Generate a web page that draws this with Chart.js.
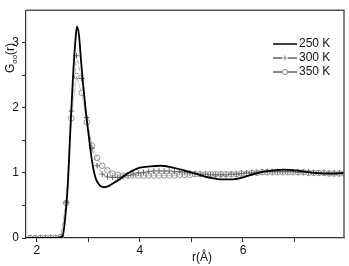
<!DOCTYPE html>
<html>
<head>
<meta charset="utf-8">
<script src="https://cdn.jsdelivr.net/npm/chart.js@4"></script>
<style>
  html, body { margin: 0; padding: 0; background: #fff; }
  #wrap { width: 349px; height: 266px; }
</style>
</head>
<body>
<div id="wrap"><canvas id="gr"></canvas></div>
<script>
/* ---------------------------
    DATA
------------------------------ */
const seriesNames = ["250 K", "300 K", "350 K"];

// 250 K, solid line
const r250 = [1.8, 2.4, 2.5, 2.55, 2.6, 2.65, 2.7, 2.75, 2.78, 2.82, 2.86, 2.9, 2.95, 3.0, 3.05, 3.1, 3.15, 3.2, 3.25, 3.3,
  3.4, 3.5, 3.6, 3.7, 3.8, 3.9, 4.0, 4.2, 4.4, 4.6, 4.8, 5.0, 5.2, 5.4, 5.6, 5.8, 6.0, 6.2, 6.4, 6.6, 6.8, 7.0, 7.2, 7.4, 7.6, 7.8, 8.0];
const g250 = [0, 0, 0.03, 0.3, 0.8, 1.65, 2.45, 3.05, 3.25, 3.1, 2.7, 2.35, 1.95, 1.62, 1.3, 1.05, 0.9, 0.83, 0.79, 0.78,
  0.8, 0.85, 0.9, 0.96, 1.01, 1.05, 1.08, 1.1, 1.11, 1.09, 1.05, 1.01, 0.96, 0.92, 0.9, 0.9, 0.93, 0.98, 1.02, 1.04, 1.05, 1.04, 1.02, 1.0, 0.99, 0.99, 1.0];

// 300 K and 350 K, sampled points
const rPts = [1.87, 1.97, 2.07, 2.17, 2.27, 2.37, 2.47, 2.57, 2.67, 2.77, 2.87, 2.97, 3.07, 3.17, 3.27, 3.37, 3.47, 3.57, 3.67, 3.77,
  3.87, 3.97, 4.07, 4.17, 4.27, 4.37, 4.47, 4.57, 4.67, 4.77, 4.87, 4.97, 5.07, 5.17, 5.27, 5.37, 5.47, 5.57, 5.67, 5.77,
  5.87, 5.97, 6.07, 6.17, 6.27, 6.37, 6.47, 6.57, 6.67, 6.77, 6.87, 6.97, 7.07, 7.17, 7.27, 7.37, 7.47, 7.57, 7.67, 7.77, 7.87, 7.97];
const g300 = [0, 0, 0, 0, 0, 0, 0.02, 0.55, 1.95, 2.8, 2.45, 1.85, 1.38, 1.11, 0.98, 0.94, 0.93, 0.93, 0.94, 0.96,
  0.98, 1.0, 1.01, 1.02, 1.03, 1.03, 1.03, 1.03, 1.02, 1.02, 1.01, 1.0, 0.99, 0.98, 0.98, 0.97, 0.97, 0.97, 0.97, 0.98,
  0.98, 0.99, 1.0, 1.0, 1.01, 1.02, 1.02, 1.02, 1.02, 1.02, 1.02, 1.02, 1.01, 1.01, 1.01, 1.0, 1.0, 1.0, 1.0, 1.0, 1.0, 1.0];
const g350 = [0, 0, 0, 0, 0, 0, 0.02, 0.54, 1.84, 2.49, 2.23, 1.78, 1.42, 1.23, 1.11, 1.04, 0.99, 0.97, 0.96, 0.96,
  0.96, 0.96, 0.96, 0.96, 0.96, 0.96, 0.96, 0.96, 0.96, 0.97, 0.97, 0.97, 0.98, 0.98, 0.98, 0.98, 0.98, 0.98, 0.98, 0.98,
  0.98, 0.99, 0.99, 1.0, 1.0, 1.01, 1.01, 1.01, 1.01, 1.01, 1.01, 1.01, 1.01, 1.01, 1.0, 1.0, 1.0, 1.0, 0.99, 0.99, 0.99, 0.99];

const xTicks = [2, 3, 4, 5, 6, 7];
const yTicks = [0, 0.5, 1, 1.5, 2, 2.5, 3];

const pairs = (xs, ys) => xs.map((x, i) => ({ x: x, y: ys[i] }));

/* ---------------------------
    EXTRA DRAWING (frame, legend, axis titles)
------------------------------ */
const extras = {
    id: "extras",
    afterDraw(chart) {
        const ctx = chart.ctx;
        const a = chart.chartArea;
        ctx.save();

        // top + right frame
        ctx.strokeStyle = "#555";
        ctx.lineWidth = 1.5;
        ctx.beginPath();
        ctx.moveTo(a.left, a.top);
        ctx.lineTo(a.right, a.top);
        ctx.lineTo(a.right, a.bottom);
        ctx.stroke();

        // legend
        const rows = [44, 58, 72];
        ctx.font = "12px 'Liberation Sans', Arial, sans-serif";
        ctx.textBaseline = "middle";
        rows.forEach((y, i) => {
            ctx.strokeStyle = "#111";
            ctx.lineWidth = i === 0 ? 1.6 : 1;
            ctx.beginPath();
            ctx.moveTo(273, y);
            ctx.lineTo(297, y);
            ctx.stroke();
            ctx.lineWidth = 1;
            if (i === 1) {
                ctx.strokeStyle = "#888";
                ctx.fillStyle = "#fff";
                ctx.fillRect(282, y - 3, 6, 6);
                ctx.beginPath();
                ctx.moveTo(282.5, y); ctx.lineTo(287.5, y);
                ctx.moveTo(285, y - 2.5); ctx.lineTo(285, y + 2.5);
                ctx.stroke();
            }
            if (i === 2) {
                ctx.fillStyle = "#fff";
                ctx.strokeStyle = "#888";
                ctx.beginPath();
                ctx.arc(285, y, 2.6, 0, Math.PI * 2);
                ctx.fill();
                ctx.stroke();
            }
            ctx.fillStyle = "#111";
            ctx.textAlign = "left";
            ctx.fillText(seriesNames[i], 299, y);
        });

        // x title
        ctx.textAlign = "center";
        ctx.textBaseline = "middle";
        ctx.fillStyle = "#111";
        ctx.font = "12px 'Liberation Sans', Arial, sans-serif";
        ctx.fillText("r(Å)", 202, 258);

        // y title with subscript
        ctx.translate(11, 58);
        ctx.rotate(-Math.PI / 2);
        ctx.textAlign = "left";
        ctx.textBaseline = "middle";
        const big = "12px 'Liberation Sans', Arial, sans-serif";
        const small = "8px 'Liberation Sans', Arial, sans-serif";
        ctx.font = big;
        const wG = ctx.measureText("G").width;
        const wR = ctx.measureText("(r)").width;
        ctx.font = small;
        const wS = ctx.measureText("oo").width;
        let x = -(wG + wS + wR) / 2;
        ctx.font = big;
        ctx.fillText("G", x, 0);
        x += wG;
        ctx.font = small;
        ctx.fillText("oo", x, 4);
        x += wS;
        ctx.font = big;
        ctx.fillText("(r)", x, 0);

        ctx.restore();
    }
};

/* ---------------------------
    CHART
------------------------------ */
new Chart(document.getElementById("gr"), {
    type: "line",
    data: {
        datasets: [
            {
                label: seriesNames[0],
                data: pairs(r250, g250),
                borderColor: "#000",
                borderWidth: 1.8,
                pointRadius: 0,
                cubicInterpolationMode: "monotone",
                order: 0
            },
            {
                label: seriesNames[1],
                data: pairs(rPts, g300),
                borderColor: "rgba(60,60,60,0.6)",
                borderWidth: 0.7,
                borderDash: [4, 3],
                pointStyle: "cross",
                pointRadius: 2.8,
                pointBorderWidth: 1,
                pointBorderColor: "#666",
                order: 1
            },
            {
                label: seriesNames[2],
                data: pairs(rPts, g350),
                borderColor: "rgba(90,90,90,0.5)",
                borderWidth: 0.6,
                pointStyle: "circle",
                pointRadius: 2.8,
                pointBorderWidth: 0.9,
                pointBorderColor: "#8a8a8a",
                pointBackgroundColor: "rgba(255,255,255,0)",
                order: 2
            }
        ]
    },
    options: {
        responsive: true,
        maintainAspectRatio: false,
        animation: false,
        layout: { padding: { top: 2, right: 3, left: 0, bottom: 0 } },
        plugins: {
            legend: { display: false },
            tooltip: { enabled: false }
        },
        scales: {
            x: {
                type: "linear",
                min: 1.79,
                max: 7.96,
                afterBuildTicks: (axis) => { axis.ticks = xTicks.map(v => ({ value: v })); },
                afterFit: (scale) => { scale.height = 28; },
                grid: { drawOnChartArea: false, tickLength: 4, color: "#333" },
                border: { color: "#333", width: 1.2 },
                ticks: {
                    color: "#111",
                    padding: 1,
                    maxRotation: 0,
                    font: { family: "'Liberation Sans', Arial, sans-serif", size: 12 },
                    callback: (v) => (v % 2 === 0 ? v : "")
                }
            },
            y: {
                min: 0,
                max: 3.5,
                afterBuildTicks: (axis) => { axis.ticks = yTicks.map(v => ({ value: v })); },
                afterFit: (scale) => { scale.width = 26; },
                grid: { drawOnChartArea: false, tickLength: 4, color: "#333" },
                border: { color: "#333", width: 1.2 },
                ticks: {
                    color: "#111",
                    padding: 3,
                    font: { family: "'Liberation Sans', Arial, sans-serif", size: 12 },
                    callback: (v) => (Number.isInteger(v) ? v : "")
                }
            }
        }
    },
    plugins: [extras]
});
</script>
</body>
</html>
